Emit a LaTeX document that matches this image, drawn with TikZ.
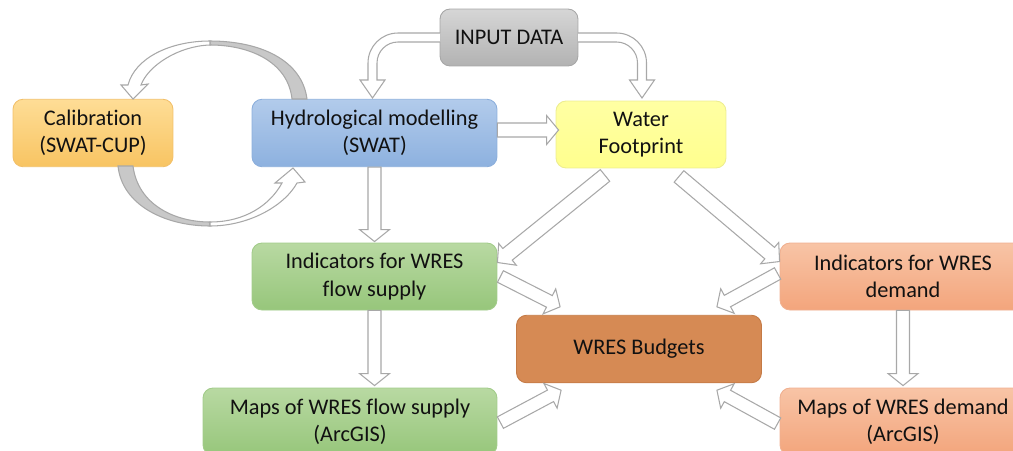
\documentclass[tikz,border=0pt]{standalone}
\usepackage{fontspec}
\setmainfont{Carlito}[Ligatures=NoCommon]
\usetikzlibrary{calc}

\definecolor{arrowline}{HTML}{A8A8A8}
\definecolor{arrowshade}{HTML}{C8C8C8}
\definecolor{txt}{HTML}{111111}
\definecolor{greyT}{HTML}{D6D6D6}\definecolor{greyB}{HTML}{B2B2B2}\definecolor{greyD}{HTML}{A6A6A6}
\definecolor{calT}{HTML}{FEDD96}\definecolor{calB}{HTML}{F8C462}\definecolor{calD}{HTML}{F2C06A}
\definecolor{bluT}{HTML}{B2CBEB}\definecolor{bluB}{HTML}{8DB1DF}\definecolor{bluD}{HTML}{8CAFDC}
\definecolor{yelT}{HTML}{FFFFA3}\definecolor{yelB}{HTML}{FFFF8E}\definecolor{yelD}{HTML}{EDED90}
\definecolor{grnT}{HTML}{B8D9A2}\definecolor{grnB}{HTML}{97C67B}\definecolor{grnD}{HTML}{A2CC8A}
\definecolor{salT}{HTML}{F8C4A6}\definecolor{salB}{HTML}{F3A57C}\definecolor{salD}{HTML}{F0B090}
\definecolor{budF}{HTML}{D68A54}\definecolor{budD}{HTML}{C47A45}

\tikzset{
  box/.style={rectangle, rounded corners=0.2cm, inner sep=0pt, align=center,
    text=txt, font=\fontsize{12.7}{15.5}\selectfont, line width=0.5pt},
  greybox/.style={box, draw=greyD, top color=greyT, bottom color=greyB},
  calbox/.style={box, draw=calD, top color=calT, bottom color=calB},
  bluebox/.style={box, draw=bluD, top color=bluT, bottom color=bluB},
  yelbox/.style={box, draw=yelD, top color=yelT, bottom color=yelB},
  grnbox/.style={box, draw=grnD, top color=grnT, bottom color=grnB},
  salbox/.style={box, draw=salD, top color=salT, bottom color=salB},
  budbox/.style={box, draw=budD, fill=budF},
  hollow/.style={draw=arrowline, fill=white, line width=0.6pt, line join=miter},
  shade3d/.style={draw=arrowline, fill=arrowshade, line width=0.6pt},
}

% straight hollow block arrow: from, to, half shaft width, half head width, head length
\newcommand\blockarrow[5]{%
  \path ($(#2)!#5!(#1)$) coordinate (hb);
  \draw[hollow] ($(#1)!#3!90:(#2)$) -- ($(hb)!#3!90:(#2)$) -- ($(hb)!#4!90:(#2)$)
    -- (#2) -- ($(hb)!#4!-90:(#2)$) -- ($(hb)!#3!-90:(#2)$) -- ($(#1)!#3!-90:(#2)$) -- cycle;
}

\begin{document}
\begin{tikzpicture}[x=0.02cm, y=-0.02cm]
\useasboundingbox (0,0) rectangle (1013,450);

% boxes
\node[greybox, minimum width=2.76cm, minimum height=1.14cm] (input) at (509,37.5) {INPUT DATA};
\node[calbox, minimum width=3.2cm, minimum height=1.35cm] (calib) at (93,133) {Calibration\\(SWAT-CUP)};
\node[bluebox, minimum width=4.9cm, minimum height=1.35cm] (hydro) at (374.5,133) {Hydrological modelling\\(SWAT)};
\node[yelbox, minimum width=3.4cm, minimum height=1.34cm] (wf) at (641,134.5) {Water\\Footprint};
\node[grnbox, minimum width=4.9cm, minimum height=1.34cm] (indsup) at (374.5,276.5) {Indicators for WRES\\flow supply};
\node[salbox, minimum width=4.92cm, minimum height=1.34cm] (inddem) at (903,276.5) {Indicators for WRES\\demand};
\node[budbox, minimum width=4.9cm, minimum height=1.35cm] (budget) at (639,349) {WRES Budgets};
\node[grnbox, minimum width=5.88cm, minimum height=1.34cm] (mapsup) at (350,421.5) {Maps of WRES flow supply\\(ArcGIS)};
\node[salbox, minimum width=4.92cm, minimum height=1.34cm] (mapdem) at (903,421.5) {Maps of WRES demand\\(ArcGIS)};

% elbow arrows out of INPUT DATA
\draw[hollow] (440,33) -- (398,33) .. controls (381.4,33) and (368,46.4) .. (368,63)
  -- (368,80) -- (360,80) -- (372.5,98) -- (385,80) -- (377,80) -- (377,63)
  .. controls (377,51.4) and (386.4,42) .. (398,42) -- (440,42);
\draw[hollow] (578,33) -- (616.5,33) .. controls (633.1,33) and (646.5,46.4) .. (646.5,63)
  -- (646.5,80) -- (654.5,80) -- (642,98) -- (629.5,80) -- (637.5,80) -- (637.5,63)
  .. controls (637.5,51.4) and (628.1,42) .. (616.5,42) -- (578,42);

% calibration loop: upper arc (model -> calibration)
\draw[shade3d] (307,99) .. controls (302,60) and (260,41) .. (210,41)
  -- (210,45) .. controls (250,45) and (288,62) .. (292,99) -- cycle;
\draw[hollow] (210,41) .. controls (170,41) and (135,58) .. (128,85)
  -- (121,85) -- (133,99) -- (148,84) -- (141,85)
  .. controls (148,66) and (178,46) .. (210,45) -- cycle;

% calibration loop: lower arc (calibration -> model)
\draw[shade3d] (118,166) .. controls (122,205) and (165,226) .. (210,226)
  -- (210,222) .. controls (175,222) and (138,205) .. (133,166) -- cycle;
\draw[hollow] (210,226) .. controls (250,226) and (285,205) .. (297,183)
  -- (305,182) -- (293,168) -- (275,183) -- (282,183)
  .. controls (270,205) and (245,222) .. (210,222) -- cycle;

% straight arrows between boxes
\coordinate (a1) at ($(hydro.east)+(0,-3)$);
\coordinate (b1) at ($(wf.west)+(3,-4.5)$);
\blockarrow{a1}{b1}{0.14cm}{0.29cm}{0.24cm}

\coordinate (a2) at (hydro.south);
\coordinate (b2) at ($(indsup.north)+(0,-1)$);
\blockarrow{a2}{b2}{0.13cm}{0.3cm}{0.24cm}

\coordinate (a3) at (indsup.south);
\coordinate (b3) at ($(indsup.south |- mapsup.north)+(0,-2)$);
\blockarrow{a3}{b3}{0.13cm}{0.3cm}{0.24cm}

\coordinate (a4) at (inddem.south);
\coordinate (b4) at ($(mapdem.north)+(0,-2)$);
\blockarrow{a4}{b4}{0.13cm}{0.3cm}{0.24cm}

\coordinate (a5) at ($(wf.south)+(-36,7)$);
\coordinate (b5) at ($(indsup.east)+(0,-14)$);
\blockarrow{a5}{b5}{0.15cm}{0.28cm}{0.26cm}

\coordinate (a6) at ($(wf.south)+(38,8)$);
\coordinate (b6) at ($(inddem.west)+(0,-15)$);
\blockarrow{a6}{b6}{0.15cm}{0.28cm}{0.26cm}

\coordinate (a7) at ($(indsup.east)+(3,0)$);
\coordinate (b7) at ($(budget.north west)+(44,-8)$);
\blockarrow{a7}{b7}{0.13cm}{0.28cm}{0.24cm}

\coordinate (a8) at ($(inddem.west)+(-2,-3)$);
\coordinate (b8) at ($(budget.north east)+(-45,-8)$);
\blockarrow{a8}{b8}{0.13cm}{0.28cm}{0.24cm}

\coordinate (a9) at ($(mapsup.north east)+(3,35)$);
\coordinate (b9) at ($(budget.south west)+(45,7)$);
\blockarrow{a9}{b9}{0.13cm}{0.28cm}{0.24cm}

\coordinate (a10) at ($(mapdem.north west)+(-2,36)$);
\coordinate (b10) at ($(budget.south east)+(-45,7)$);
\blockarrow{a10}{b10}{0.13cm}{0.28cm}{0.24cm}
\end{tikzpicture}
\end{document}
